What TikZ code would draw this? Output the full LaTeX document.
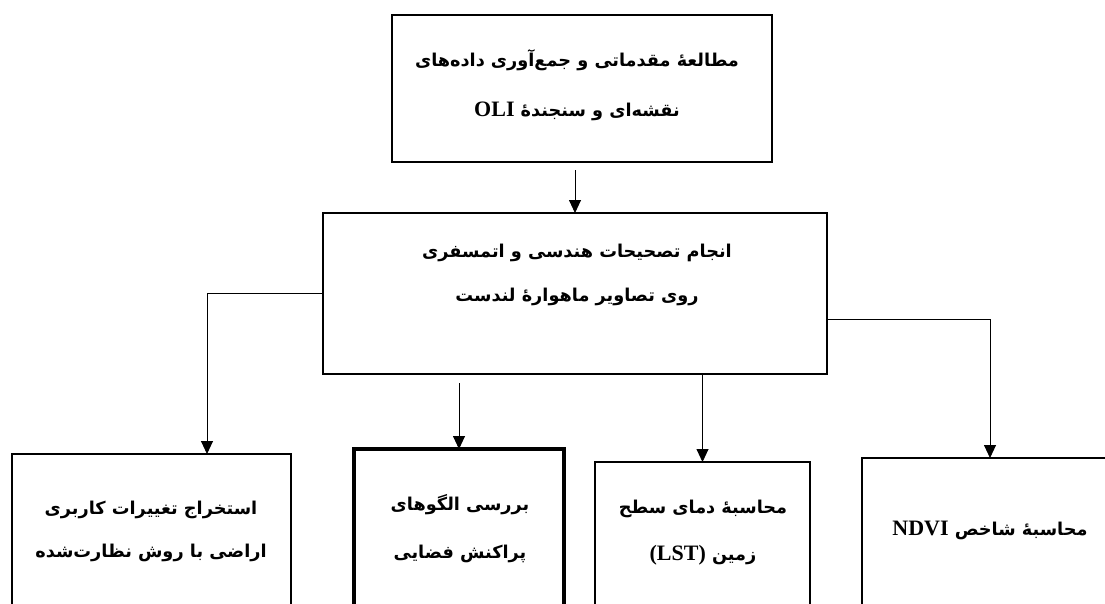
\documentclass[tikz,border=0pt]{standalone}
\usepackage{fontspec}
\TeXXeTstate=1
\newfontfamily\arabicfont[Script=Arabic]{DejaVu Sans}
\newfontfamily\latinfont{Liberation Serif}
\usetikzlibrary{arrows.meta}
\newcommand{\LT}[1]{\beginL{\latinfont\bfseries\fontsize{22}{24}\selectfont #1}\endL}
\begin{document}
\begin{tikzpicture}[x=1pt,y=-1pt,
  box/.style={draw, line width=1.5pt, inner sep=0pt, outer sep=0pt},
  thickbox/.style={draw, line width=4.5pt, inner sep=0pt, outer sep=0pt},
  txt/.style={align=center, inner sep=0pt, font=\arabicfont\bfseries\fontsize{17.7}{#1}\selectfont},
  arr/.style={line width=0.9pt, -{Triangle[length=13pt,width=12pt]}}]
\useasboundingbox (0,0) rectangle (1105,603);
\clip (0,0) rectangle (1105,603);
\fill[white] (0,0) rectangle (1105,603);
% boxes
\node[box, minimum width=380pt, minimum height=147pt] (top) at (582,88.5) {};
\node[box, minimum width=504pt, minimum height=161pt] (mid) at (575,293.5) {};
\node[box, minimum width=279pt, minimum height=200pt] (left) at (151.5,554) {};
\node[thickbox, minimum width=210pt, minimum height=200pt] (thick) at (459,549) {};
\node[box, minimum width=215pt, minimum height=200pt] (lst) at (702.5,562) {};
\node[box, minimum width=256pt, minimum height=200pt] (ndvi) at (990,558) {};
% texts
\node[txt=50pt] (t1) at (577,85) {\beginR مطالعهٔ مقدماتی و جمع‌آوری داده‌های\endR\\ \beginR نقشه‌ای و سنجندهٔ \LT{OLI}\endR};
\node[txt=44pt] (t2) at (577,275) {\beginR انجام تصحیحات هندسی و اتمسفری\endR\\ \beginR روی تصاویر ماهوارهٔ لندست\endR};
\node[txt=43pt] (t3) at (151,531) {\beginR استخراج تغییرات کاربری\endR\\ \beginR اراضی با روش نظارت‌شده\endR};
\node[txt=48pt] (t4) at (460,529) {\beginR بررسی الگوهای\endR\\ \beginR پراکنش فضایی\endR};
\node[txt=47pt] (t5) at (703,533) {\beginR محاسبهٔ دمای سطح\endR\\ \beginR زمین \LT{(LST)}\endR};
\node[txt=22pt] (t6) at (990,530) {\beginR محاسبهٔ شاخص \LT{NDVI}\endR};
% connectors
\draw[arr] ([yshift=-8pt]top.south -| mid.north) -- (mid.north);
\draw[arr] (mid.west) -| ([xshift=55.5pt]left.north);
\draw[arr] ([yshift=-9pt]mid.south -| thick.north) -- (thick.north);
\draw[arr] (mid.south -| lst.north) -- (lst.north);
\draw[arr] ([yshift=-25.5pt]mid.east) -| (ndvi.north);
\end{tikzpicture}
\end{document}
